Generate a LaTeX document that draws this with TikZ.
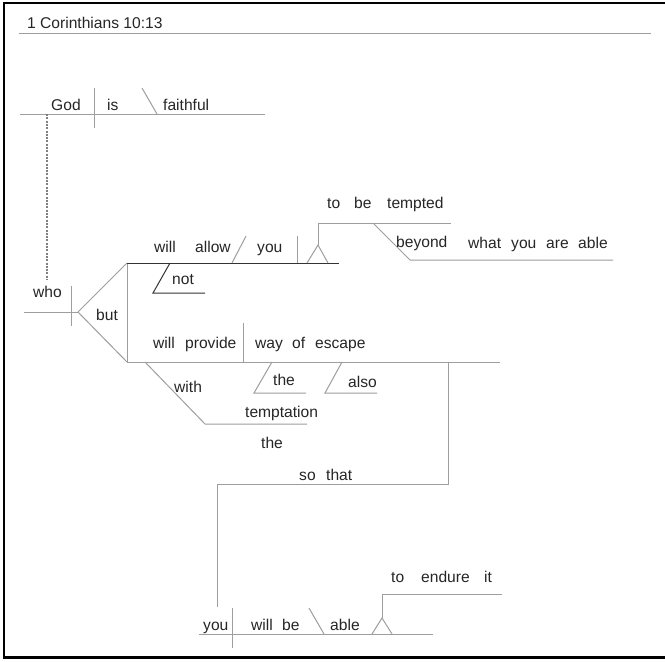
\documentclass[tikz,border=0pt]{standalone}
\usepackage{fontspec}
\setmainfont{Liberation Sans}
\begin{document}
\begin{tikzpicture}[x=1pt,y=-1pt,
  wd/.style={anchor=base west,inner sep=0pt,text=black!85,font=\fontsize{15.6}{18}\selectfont},
  ln/.style={draw=black!38,line width=1pt},
  dk/.style={draw=black!80,line width=1pt}]
\useasboundingbox (0,0) rectangle (665,662);
\fill[white] (0,0) rectangle (665,662);
\draw[line width=2.2pt] (666,3) -- (4,3) -- (4,657.5) -- (666,657.5);
% title
\node[wd] (title) at (27,28) {1 Corinthians 10:13};
\draw[ln] (19,33) -- (651,33);
% God is faithful
\node[wd] (god) at (51,110) {God};
\node[wd] (is) at (107,110) {is};
\node[wd] (faithful) at (163,110) {faithful};
\draw[ln] (20,114) -- (265,114);
\draw[ln] (94,88) -- (94,128);
\draw[ln] (142,88) -- (157,114);
\draw[draw=black!50,line width=1.3pt,dash pattern=on 2pt off 1.3pt] (47,114) -- (47,280);
% who
\node[wd] (who) at (33,297) {who};
\draw[ln] (24,312) -- (78,312);
\draw[ln] (71,286) -- (71,326);
\node[wd] (but) at (96,320) {but};
\draw[ln] (127,263) -- (78,312) -- (127,362);
\draw[ln] (127,263) -- (127,362);
% will not allow you to be tempted
\node[wd] (will1) at (154,252) {will};
\node[wd] (allow) at (195,252) {allow};
\node[wd] (you1) at (257,252) {you};
\draw[dk] (127,263) -- (339,263);
\draw[ln] (232,263) -- (246,236);
\draw[ln] (297,236) -- (297,263);
\draw[ln] (307,263) -- (318,245) -- (328,263);
\draw[ln] (318,245) -- (318,223) -- (451,223);
\node[wd] (to1) at (327,208) {to};
\node[wd] (be1) at (354,208) {be};
\node[wd] (tempted) at (387,208) {tempted};
\draw[ln] (373,223) -- (410,260) -- (613,260);
\node[wd] (beyond) at (396,247) {beyond};
\node[wd] (what) at (468,248) {what};
\node[wd] (you2) at (511,248) {you};
\node[wd] (are) at (546,248) {are};
\node[wd] (able1) at (578,248) {able};
\draw[dk] (170,263) -- (153,293) -- (205,293);
\node[wd] (not) at (172,284) {not};
% will provide way of escape
\node[wd] (will2) at (153,348) {will};
\node[wd] (provide) at (185,348) {provide};
\node[wd] (way) at (255,348) {way};
\node[wd] (of) at (292,348) {of};
\node[wd] (escape) at (315,348) {escape};
\draw[ln] (127,362) -- (500,362);
\draw[ln] (243,323) -- (243,362);
\draw[ln] (272,362) -- (254,393) -- (306,393);
\node[wd] (the1) at (273,385) {the};
\draw[ln] (342,362) -- (325,393) -- (377,393);
\node[wd] (also) at (348,387) {also};
\draw[ln] (145,362) -- (205,424) -- (307,424);
\node[wd] (with) at (174,392) {with};
\node[wd] (temptation) at (245,417) {temptation};
\node[wd] (the2) at (261,448) {the};
% so that
\draw[ln] (448,362) -- (448,484) -- (217,484) -- (217,607);
\node[wd] (so) at (299,480) {so};
\node[wd] (that) at (326,480) {that};
% you will be able to endure it
\draw[ln] (199,634) -- (433,634);
\draw[ln] (232,608) -- (232,648);
\draw[ln] (309,608) -- (324,634);
\node[wd] (you3) at (203,630) {you};
\node[wd] (will3) at (251,630) {will};
\node[wd] (be2) at (282,630) {be};
\node[wd] (able2) at (330,630) {able};
\draw[ln] (372,634) -- (382,618) -- (392,634);
\draw[ln] (382,618) -- (382,594) -- (502,594);
\node[wd] (to2) at (391,582) {to};
\node[wd] (endure) at (421,582) {endure};
\node[wd] (it) at (484,582) {it};
\end{tikzpicture}
\end{document}
